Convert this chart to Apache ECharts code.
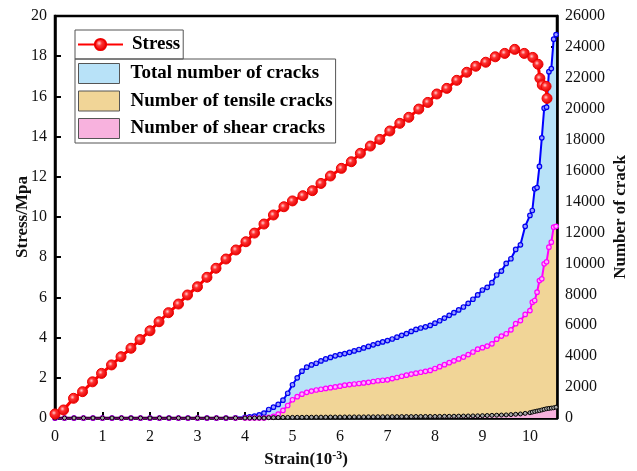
<!DOCTYPE html>
<html><head><meta charset="utf-8">
<script src="https://cdn.jsdelivr.net/npm/echarts@6/dist/echarts.min.js"></script>
<style>html,body{margin:0;padding:0;background:#fff}#c{width:637px;height:471px}</style>
</head><body><div id="c"></div>
<script>
// ---- data ----
const stressStrain = [0,0.18,0.39,0.58,0.79,0.98,1.19,1.39,1.6,1.79,2.0,2.19,2.39,2.6,2.79,3.0,3.2,3.39,3.6,3.81,4.02,4.2,4.4,4.6,4.82,5.0,5.22,5.42,5.6,5.8,6.03,6.24,6.43,6.64,6.84,7.05,7.26,7.45,7.66,7.85,8.04,8.25,8.46,8.67,8.86,9.07,9.27,9.47,9.68,9.88,10.06,10.17,10.21,10.26,10.34,10.36];
const stressValues = [0.2,0.4,0.98,1.31,1.8,2.22,2.64,3.05,3.47,3.9,4.34,4.79,5.24,5.67,6.12,6.53,7.0,7.45,7.91,8.36,8.77,9.2,9.65,10.1,10.51,10.8,11.06,11.31,11.67,12.04,12.42,12.75,13.17,13.53,13.86,14.28,14.66,14.96,15.37,15.7,16.12,16.4,16.8,17.2,17.5,17.7,17.97,18.14,18.34,18.14,17.94,17.6,16.9,16.57,16.5,15.9];

const crackStrain = [0,0.2,0.4,0.6,0.8,1.0,1.2,1.4,1.6,1.8,2.0,2.2,2.4,2.6,2.8,3.0,3.2,3.4,3.6,3.8,4.0,
 4.1,4.2,4.3,4.4,4.5,4.6,4.7,4.8,4.9,5.0,5.1,5.2,5.3,5.4,5.5,5.6,5.7,5.8,5.9,6.0,
 6.1,6.2,6.3,6.4,6.5,6.6,6.7,6.8,6.9,7.0,7.1,7.2,7.3,7.4,7.5,7.6,7.7,7.8,7.9,8.0,
 8.1,8.2,8.3,8.4,8.5,8.6,8.7,8.8,8.9,9.0,9.1,9.2,9.3,9.4,9.5,9.6,9.7,9.8,9.9,10.0,
 10.05,10.1,10.15,10.2,10.25,10.3,10.35,10.4,10.45,10.5,10.55];
const totalCracks = [0,0,0,0,0,0,0,0,0,0,0,0,0,0,0,0,0,0,0,10,50,
 80,120,200,320,550,700,880,1150,1600,2150,2600,3030,3290,3430,3540,3690,3820,3920,4020,4100,
 4170,4250,4340,4430,4530,4630,4730,4830,4920,5010,5110,5230,5350,5460,5600,5730,5820,5900,5990,6130,
 6290,6460,6640,6810,6990,7180,7420,7680,7960,8280,8450,8750,9250,9500,10000,10300,10900,11200,12400,13100,
 13420,14820,14900,16270,18120,20040,20100,22400,22600,24500,24800];
const tensileCracks = [0,0,0,0,0,0,0,0,0,0,0,0,0,0,0,0,0,0,0,0,0,
 0,0,0,0,50,100,250,490,810,1180,1380,1540,1660,1740,1810,1860,1910,1960,2010,2060,
 2120,2160,2200,2230,2270,2310,2360,2410,2440,2470,2550,2620,2700,2770,2840,2900,2960,3020,3080,3200,
 3320,3450,3580,3700,3820,3940,4100,4270,4450,4550,4650,4800,5100,5300,5450,5700,6100,6300,6700,6950,
 7490,7600,8140,8890,9000,9970,10100,11050,11370,12340,12400];
const shearCracks = [0,0,0,0,0,0,0,0,0,0,0,0,0,0,0,0,0,0,0,0,0,
 0,0,0,0,20,25,30,35,40,40,45,45,50,50,55,55,55,60,60,60,
 65,65,70,70,70,75,75,80,80,80,85,85,90,90,90,95,95,100,100,100,
 105,110,110,115,120,125,130,135,140,150,160,170,180,190,200,220,240,260,300,340,
 380,420,450,480,520,560,600,620,640,660,700];

const xTicks = [0,1,2,3,4,5,6,7,8,9,10];

// ---- chart ----
const font = 'Liberation Serif';
const pair = (xs, ys) => xs.map((x, i) => [x, ys[i]]);
const chart = echarts.init(document.getElementById('c'), null, {renderer: 'canvas'});
const axisLineStyle = {color: '#000', width: 2.5};
const labelStyle = {color: '#111', fontFamily: font, fontSize: 16};
const nameStyle = {color: '#111', fontFamily: font, fontSize: 17, fontWeight: 'bold'};

chart.setOption({
  animation: false,
  backgroundColor: '#fff',
  grid: {left: 55, right: 80, top: 16, bottom: 53, containLabel: false, outerBoundsMode: 'none',
         show: true, borderColor: '#000', borderWidth: 2.5, backgroundColor: 'transparent'},
  legend: [{
    left: 75, top: 30, orient: 'vertical',
    data: ['Stress'],
    itemWidth: 45, itemHeight: 14,
    padding: [5, 3, 5, 2],
    borderColor: '#555', borderWidth: 1,
    textStyle: {color: '#000', fontFamily: font, fontSize: 19, fontWeight: 'bold', padding: [0, 0, 0, 4]}
  }, {
    left: 75, top: 59, orient: 'vertical',
    data: [
      {name: 'Total number of cracks', icon: 'rect', itemStyle: {color: '#b8e2f8', borderColor: '#555', borderWidth: 1}},
      {name: 'Number of tensile cracks', icon: 'rect', itemStyle: {color: '#f1d597', borderColor: '#555', borderWidth: 1}},
      {name: 'Number of shear cracks', icon: 'rect', itemStyle: {color: '#f8b2de', borderColor: '#555', borderWidth: 1}}
    ],
    itemWidth: 41, itemHeight: 20, itemGap: 6.5,
    padding: [4, 3, 4, 3],
    borderColor: '#555', borderWidth: 1,
    textStyle: {color: '#000', fontFamily: font, fontSize: 19, fontWeight: 'bold', padding: [0, 0, 0, 6]}
  }],
  xAxis: {
    type: 'value', min: 0, max: 10.57, interval: 1,
    name: 'Strain(10{sup|-3})', nameLocation: 'middle', nameGap: 29,
    nameTextStyle: Object.assign({}, nameStyle, {rich: {sup: {fontFamily: font, fontSize: 12, fontWeight: 'bold', color: '#111', verticalAlign: 'top', padding: [0, 0, 8, 0]}}}),
    axisLine: {lineStyle: axisLineStyle},
    axisTick: {inside: true, length: 6, lineStyle: {width: 2, color: '#000'}, customValues: xTicks},
    axisLabel: {customValues: xTicks, formatter: v => (Math.abs(v - Math.round(v)) < 1e-6 ? String(Math.round(v)) : ''), margin: 11, ...labelStyle},
    splitLine: {show: false}
  },
  yAxis: [{
    type: 'value', min: 0, max: 20, interval: 2, position: 'left',
    name: 'Stress/Mpa', nameLocation: 'middle', nameGap: 24, nameRotate: 90, nameMoveOverlap: false,
    nameTextStyle: nameStyle,
    axisLine: {show: true, lineStyle: axisLineStyle},
    axisTick: {inside: true, length: 6, lineStyle: {width: 2, color: '#000'}},
    axisLabel: {margin: 8, ...labelStyle},
    splitLine: {show: false}
  }, {
    type: 'value', min: 0, max: 26000, interval: 2000, position: 'right',
    name: 'Number of crack', nameLocation: 'middle', nameGap: 55, nameRotate: 90, nameMoveOverlap: false,
    nameTextStyle: nameStyle,
    axisLine: {show: true, lineStyle: axisLineStyle},
    axisTick: {inside: true, length: 6, lineStyle: {width: 2, color: '#000'}},
    axisLabel: {margin: 8, formatter: v => String(v), ...labelStyle},
    splitLine: {show: false}
  }],
  series: [{
    name: 'Total number of cracks', type: 'line', yAxisIndex: 1,
    data: pair(crackStrain, totalCracks),
    symbol: 'circle', symbolSize: 4.5,
    itemStyle: {color: '#9aa0ff', borderColor: '#0000ee', borderWidth: 1.2},
    lineStyle: {color: '#0000ff', width: 2},
    areaStyle: {color: '#b8e2f8', opacity: 1},
    z: 2
  }, {
    name: 'Number of tensile cracks', type: 'line', yAxisIndex: 1,
    data: pair(crackStrain, tensileCracks),
    symbol: 'circle', symbolSize: 4.5,
    itemStyle: {color: '#ffb0ff', borderColor: '#ff00ff', borderWidth: 1.2},
    lineStyle: {color: '#ff00ff', width: 2},
    areaStyle: {color: '#f1d597', opacity: 1},
    z: 3
  }, {
    name: 'Number of shear cracks', type: 'line', yAxisIndex: 1,
    data: pair(crackStrain, shearCracks),
    symbol: 'circle', symbolSize: 4,
    itemStyle: {color: '#aaa', borderColor: '#000', borderWidth: 1},
    lineStyle: {color: '#000', width: 1.5},
    areaStyle: {color: '#f8b2de', opacity: 1},
    z: 4
  }, {
    name: 'Stress', type: 'line', yAxisIndex: 0,
    data: pair(stressStrain, stressValues),
    symbol: 'circle', symbolSize: 10,
    itemStyle: {color: new echarts.graphic.RadialGradient(0.4, 0.4, 0.6, [{offset: 0, color: '#ffd0d0'}, {offset: 0.35, color: '#ff3030'}, {offset: 1, color: '#e00000'}]), borderColor: '#ee0000', borderWidth: 1},
    lineStyle: {color: '#ff0000', width: 3},
    z: 5
  }]
});
</script></body></html>
